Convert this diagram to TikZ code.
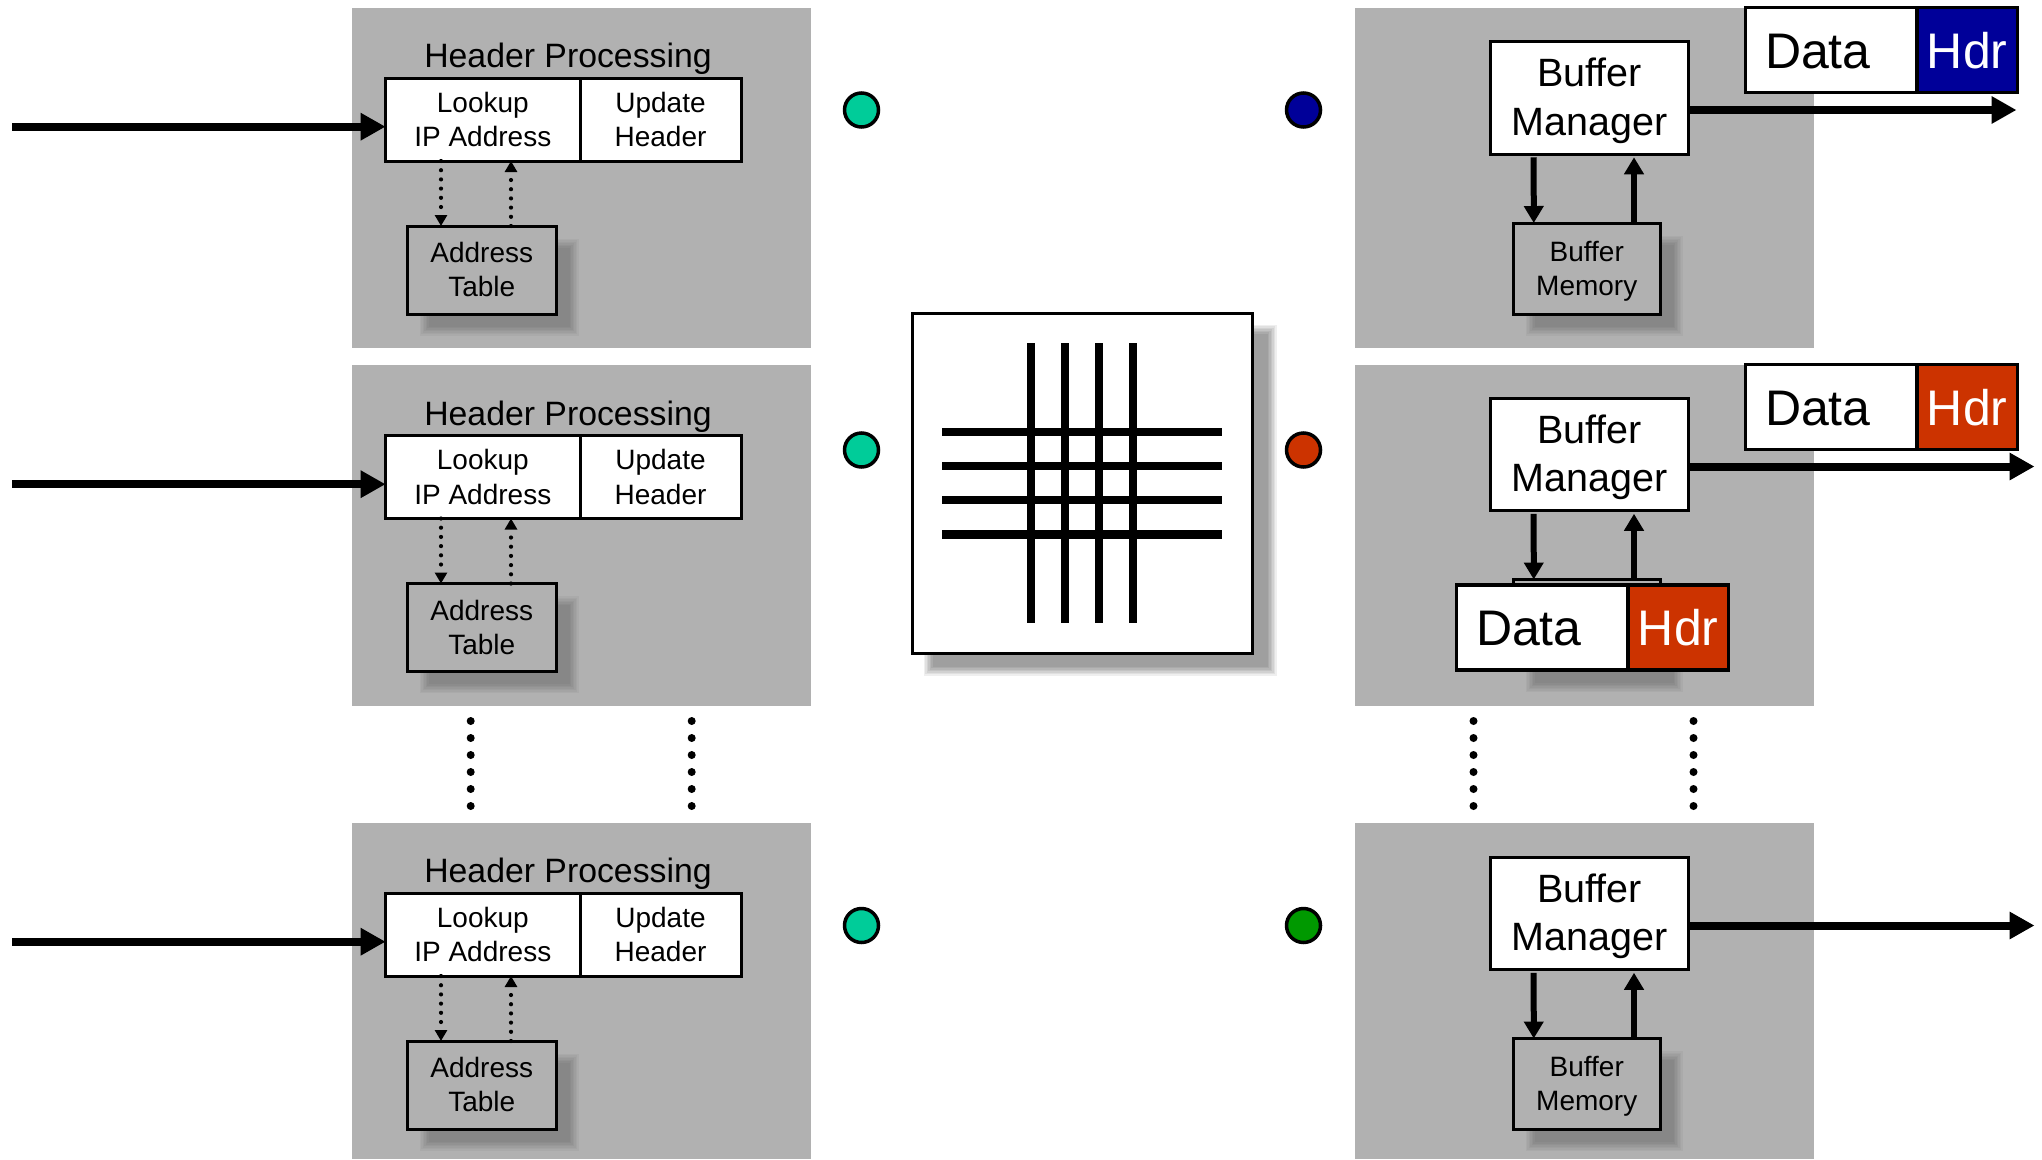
\documentclass[tikz,border=0pt]{standalone}
\usepackage{fontspec}
\setmainfont{Liberation Sans}
\usetikzlibrary{arrows.meta,calc}
\definecolor{panelgray}{HTML}{B1B1B1}
\definecolor{portgreen}{HTML}{00CC99}
\definecolor{pktblue}{HTML}{000099}
\definecolor{pktred}{HTML}{CC3300}
\definecolor{portdkgreen}{HTML}{009900}
\tikzset{
  every node/.style={inner sep=0pt,outer sep=0pt},
  panel/.style={fill=panelgray,draw=none},
  whitebox/.style={draw=black,fill=white,line width=3pt,align=center,font=\fontsize{28}{34.5}\selectfont},
  graybox/.style={draw=black,fill=panelgray,line width=3pt,align=center,font=\fontsize{28}{34}\selectfont},
  mgrbox/.style={draw=black,fill=white,line width=3pt,align=center,font=\fontsize{39.5}{48.5}\selectfont},
  titlelabel/.style={anchor=base,font=\fontsize{33.8}{40}\selectfont},
  datacell/.style={draw=black,fill=white,line width=3.5pt,align=left,text width=132.5pt,inner xsep=19.5pt,minimum height=85pt,font=\fontsize{50}{58}\selectfont},
  hdrcell/.style={draw=black,line width=3.5pt,text=white,align=center,minimum width=100.5pt,minimum height=85pt,font=\fontsize{50}{58}\selectfont},
  port/.style={circle,draw=black,line width=3.5pt,minimum size=34pt},
  fatarrow/.style={line width=8pt,-{Triangle[length=25pt,width=26pt]}},
  medarrow/.style={line width=6pt,-{Triangle[length=17pt,width=19pt]}},
  dotarrow/.style={line width=4.2pt,line cap=round,dash pattern=on 0pt off 9.2pt,-{Triangle[length=11pt,width=12pt]}},
  barline/.style={line width=8.5pt,draw=black},
}
\newcommand{\softshadow}[5]{%
  \foreach \b in {4.5,3,1.5,0,-1.5,-3,-4.5}{%
    \fill[black,opacity=#5] ({#1-\b},{#2-\b}) rectangle ({#3+\b},{#4+\b});
  }%
}
\newcommand{\leftunit}[3]{% suffix, offset, port y
  \node[titlelabel] (title#1) at (568,{67.5+#2}) {Header Processing};
  \softshadow{424}{243+#2}{574}{331+#2}{0.034}
  \node[graybox,minimum width=149.5pt,minimum height=88pt] (tbl#1) at (481.75,{270+#2}) {Address\\Table\rule[-1.3pt]{0pt}{0pt}};
  \node[whitebox,minimum width=194.4pt,minimum height=83pt] (lk#1) at (482.8,{119.5+#2}) {Lookup\\IP Address};
  \node[whitebox,minimum width=161pt,minimum height=83pt] (up#1) at (660.5,{119.5+#2}) {Update\\Header};
  \coordinate (in#1) at (12,{126.7+#2});
  \draw[fatarrow] (in#1) -- ($(lk#1.west)+(0,7.2)$);
  \draw[dotarrow] ($(lk#1.south)+(-41.8,0)$) -- ($(tbl#1.north)+(-40.75,0)$);
  \draw[dotarrow] ($(tbl#1.north)+(29.25,0)$) -- ($(lk#1.south)+(28.2,0)$);
  \node[port,fill=portgreen] (pl#1) at (861.5,#3) {};
}
\newcommand{\rightunit}[7]{% suffix, offset, memory text, port y, port colour, out-tip x, memory height
  \node[mgrbox,minimum width=198.5pt,minimum height=112.5pt] (bm#1) at (1589.5,{98+#2}) {\rule{0pt}{34.5pt}Buffer\\Manager};
  \softshadow{1530}{240+#2}{1678}{331+#2}{0.034}
  \node[graybox,anchor=north,minimum width=147.5pt,minimum height=#7] (mem#1) at (1586.75,{223+#2}) {#3};
  \draw[medarrow] ($(bm#1.south)+(-55.8,3)$) -- ($(mem#1.north)+(-53,0)$);
  \draw[medarrow] ($(mem#1.north)+(47.25,0)$) -- ($(bm#1.south)+(44.5,3)$);
  \coordinate (out#1) at (#6,{110+#2});
  \draw[fatarrow] ($(bm#1.east)+(0,12)$) -- (out#1);
  \node[port,fill=#5] (pr#1) at (1303.5,#4) {};
}
\newcommand{\packet}[5]{% suffix, data x, y, hdr x, colour
  \node[datacell] (data#1) at (#2,#3) {\rule{0pt}{36.5pt}Data};
  \node[hdrcell,fill=#5] (hdr#1) at (#4,#3) {\rule{0pt}{36.5pt}Hdr};
}
\begin{document}
\begin{tikzpicture}[x=1pt,y=-1pt]
\useasboundingbox (0,0) rectangle (2042,1159);
\fill[white] (0,0) rectangle (2042,1159);
% panels
\node[panel,minimum width=458.5pt,minimum height=340pt] (pa) at (581.25,178) {};
\node[panel,minimum width=458.5pt,minimum height=340.5pt] (pb) at (581.25,535.25) {};
\node[panel,minimum width=458.5pt,minimum height=336pt] (pc) at (581.25,991) {};
\node[panel,minimum width=459pt,minimum height=340pt] (qa) at (1584,178) {};
\node[panel,minimum width=459pt,minimum height=340.5pt] (qb) at (1584,535.25) {};
\node[panel,minimum width=459pt,minimum height=336pt] (qc) at (1584,991) {};
% left units
\leftunit{a}{0}{110}
\leftunit{b}{357.5}{450}
\leftunit{c}{815}{925.5}
% right units
\rightunit{a}{0}{\rule{0pt}{25pt}Buffer\\Memory}{110}{pktblue}{2016.5}{91pt}
\rightunit{b}{356.5}{}{450}{pktred}{2034.5}{85pt}
\rightunit{c}{815.5}{\rule{0pt}{25pt}Buffer\\Memory}{925.5}{portdkgreen}{2034.5}{91pt}
% packets
\packet{a}{1831.25}{50}{1967.25}{pktblue}
\packet{b}{1831.25}{407}{1967.25}{pktred}
\packet{m}{1542.25}{627.5}{1678.25}{pktred}
% crossbar
\softshadow{928}{329}{1272}{671}{0.062}
\node[draw=black,fill=white,line width=3pt,minimum width=340pt,minimum height=340pt] (xbar) at (1082.5,483) {};
\foreach \i/\xx in {1/1031,2/1065,3/1099,4/1133}{
  \coordinate (vt\i) at (\xx,343);
  \coordinate (vb\i) at (\xx,623);
  \draw[barline] (vt\i) -- (vb\i);
}
\foreach \i/\yy in {1/432,2/466,3/500,4/534.5}{
  \coordinate (hl\i) at (942,\yy);
  \coordinate (hr\i) at (1222,\yy);
  \draw[barline] (hl\i) -- (hr\i);
}
% dots between rows
\foreach \xx in {470.7,691.7,1473.5,1693.5}{
  \foreach \yy in {721,738,755,772,789,806}{
    \fill[black] (\xx,\yy) circle (4pt);
  }
}
\end{tikzpicture}
\end{document}
